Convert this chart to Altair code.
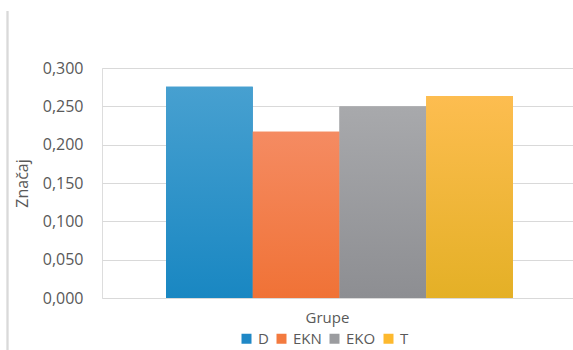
import altair as alt
import pandas as pd

groups = ["D", "EKN", "EKO", "T"]
values = [0.2755, 0.2170, 0.2497, 0.2635]
legend_colors = ["#1f88c6", "#f37a3f", "#9b9c9f", "#fdb92e"]
top_colors = ["#47a0d0", "#f58b62", "#a8a9ac", "#fdbd50"]
bottom_colors = ["#1987c2", "#f07236", "#8d8e92", "#e4b026"]

df = pd.DataFrame({"Grupa": groups, "Vrijednost": values})

FONT = "Open Sans"
TXT = "#595959"

x_enc = alt.X(
    "Grupa:N",
    sort=groups,
    scale=alt.Scale(paddingInner=0, paddingOuter=0.715, align=0.516),
    axis=alt.Axis(
        title="Grupe", labels=False, ticks=False, domain=False, grid=False,
        titleFont=FONT, titleFontSize=15, titleFontWeight="normal", titleColor=TXT,
        titleY=24, titleBaseline="alphabetic", titleX=225, titleAlign="center",
    ),
)
y_enc = alt.Y(
    "Vrijednost:Q",
    scale=alt.Scale(domain=[0, 0.3], nice=False),
    axis=alt.Axis(
        title="Značaj", values=[0, 0.05, 0.1, 0.15, 0.2, 0.25, 0.3],
        labelExpr="replace(format(datum.value, '.3f'), '.', ',')",
        labelFont=FONT, labelFontSize=16, labelColor=TXT, labelPadding=19,
        ticks=False, domain=False, grid=True, gridColor="#d9d9d9", gridWidth=1.2,
        titleFont=FONT, titleFontSize=16, titleFontWeight="normal", titleColor=TXT,
        titleX=-80, titleY=115, titleAngle=270, titleAlign="center", titleBaseline="middle",
    ),
)

base = alt.Chart(df).mark_bar().encode(
    x=x_enc,
    y=y_enc,
    color=alt.Color(
        "Grupa:N",
        sort=groups,
        scale=alt.Scale(domain=groups, range=legend_colors),
        legend=alt.Legend(
            title=None, orient="none", direction="horizontal",
            legendX=137, legendY=263, padding=0,
            symbolType="square", symbolSize=100, symbolStrokeWidth=0,
            labelFont=FONT, labelFontSize=15, labelColor=TXT,
            labelOffset=4, columnPadding=5,
        ),
    ),
)

layers = [base]
for g, t, b in zip(groups, top_colors, bottom_colors):
    layers.append(
        alt.Chart(df)
        .transform_filter(alt.datum.Grupa == g)
        .mark_bar(
            color=alt.Gradient(
                gradient="linear",
                stops=[alt.GradientStop(color=t, offset=0), alt.GradientStop(color=b, offset=1)],
                x1=0, x2=0, y1=0, y2=1,
            )
        )
        .encode(x=x_enc, y=y_enc)
    )

border = alt.Chart(df).mark_rule(color="#d9d9d9", strokeWidth=1.5).encode(
    x=alt.value(-94.5), y=alt.value(-57), y2=alt.value(282)
)

chart = (
    alt.layer(*layers, border)
    .properties(
        width=471, height=230,
        autosize=alt.AutoSizeParams(type="none"),
        padding={"left": 102, "top": 68, "right": 0, "bottom": 52},
    )
    .configure_view(stroke=None)
    .configure(background="white")
)

chart.save("out.html", embed_options={"renderer": "svg", "actions": False})
